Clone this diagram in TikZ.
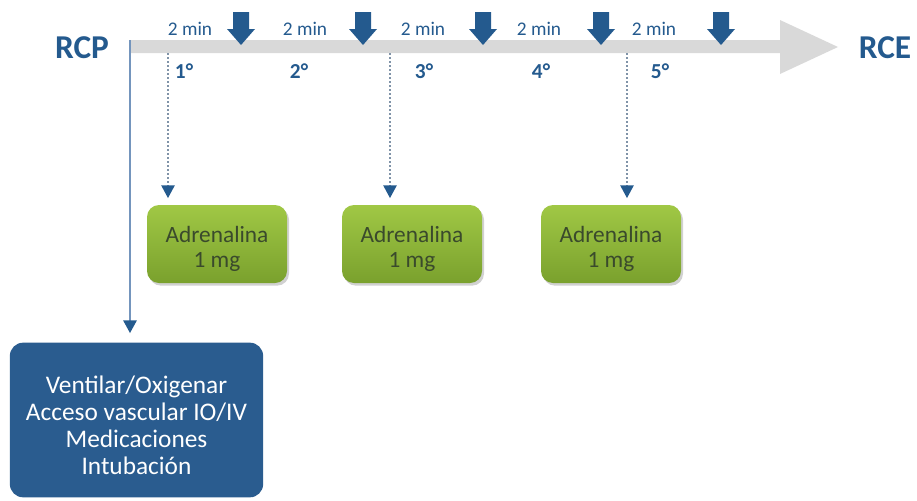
\documentclass[tikz,border=0pt]{standalone}
\usepackage{fontspec}
\setmainfont{Carlito}
\usetikzlibrary{arrows.meta,shadows}
\definecolor{dblue}{HTML}{245A8E}
\definecolor{boxblue}{HTML}{2A5C8F}
\definecolor{lineblue}{HTML}{7495BD}
\definecolor{dashc}{HTML}{8093A8}
\definecolor{barg}{HTML}{D9D9D9}
\definecolor{gtop}{HTML}{A0C845}
\definecolor{gbot}{HTML}{7AA12D}
\definecolor{gtext}{HTML}{3A4A2C}
\tikzset{
  endlabel/.style={font=\fontsize{25pt}{28pt}\selectfont\bfseries, text=dblue, inner sep=0pt},
  minlabel/.style={font=\fontsize{14.5pt}{16pt}\selectfont, text=dblue, inner sep=0pt},
  cyclabel/.style={font=\fontsize{16pt}{18pt}\selectfont\bfseries, text=dblue, inner sep=0pt},
  drugbox/.style={rounded corners=9pt, top color=gtop, bottom color=gbot, draw=none,
    minimum width=105pt, minimum height=58.5pt,
    drop shadow={shadow xshift=1.5pt, shadow yshift=-2pt, opacity=0.3, fill=black!60}},
  drugtext/.style={align=center, text=gtext, inner sep=0pt,
    font=\fontsize{17.5pt}{19pt}\selectfont},
  actbox/.style={rounded corners=10pt, fill=boxblue, draw=none,
    minimum width=190pt, minimum height=116pt},
  acttext/.style={align=center, text=white, inner sep=0pt,
    font=\fontsize{19pt}{20.3pt}\selectfont},
  tip/.style={-{Triangle[length=9.5pt,width=10pt,color=dblue]}},
  dashconn/.style={tip, draw=dashc, dash pattern=on 1.6pt off 1.4pt, line width=0.9pt},
  blockarrow/.style={fill=dblue, draw=none}
}
\begin{document}
\begin{tikzpicture}[x=0.75pt,y=-0.75pt]
\useasboundingbox (0,0) rectangle (917,500);
% gray time arrow
\fill[barg] (130,40) -- (780,40) -- (780,20) -- (838,47) -- (780,74) -- (780,53) -- (130,53) -- cycle;
% end labels
\node[endlabel] (rcp) at (82,48) {RCP};
\node[endlabel] (rce) at (885,48) {RCE};
% 2 min labels
\foreach \x/\n in {190/a,305/b,423/c,539/d,654/e}
  \node[minlabel] (min\n) at (\x,29) {2 min};
% block arrows
\foreach \x/\n in {241/a,363/b,483/c,601/d,721/e}{
  \coordinate (ba\n) at (\x,45);
  \fill[blockarrow] (\x-8,12) -- (\x+8,12) -- (\x+8,29) -- (\x+14,29) -- (\x,45) -- (\x-14,29) -- (\x-8,29) -- cycle;
}
% cycle numbers
\foreach \x/\t/\n in {184/1/a,299/2/b,424/3/c,541/4/d,660/5/e}
  \node[cyclabel] (cyc\n) at (\x,71) {\t\textdegree};
% drug boxes
\foreach \x/\n in {217/1,412/2,611/3}{
  \node[drugbox] (d\n) at (\x,244) {};
  \node[drugtext] (d\n t) at (\x,249) {Adrenalina\\1 mg};
}
% action box
\node[actbox] (act) at (136.5,420) {};
\node[acttext] (actt) at (136.5,425) {Ventilar/Oxigenar\\Acceso vascular IO/IV\\Medicaciones\\Intubación};
% connectors
\coordinate (s0) at (130,40);
\coordinate (s1) at (168,53);
\coordinate (s2) at (390,53);
\coordinate (s3) at (627,53);
\draw[tip, draw=lineblue, line width=1.3pt] (s0) -- ([yshift=7pt]s0 |- act.north);
\draw[dashconn] (s1) -- ([yshift=5pt]s1 |- d1.north);
\draw[dashconn] (s2) -- ([yshift=5pt]s2 |- d2.north);
\draw[dashconn] (s3) -- ([yshift=5pt]s3 |- d3.north);
\end{tikzpicture}
\end{document}
